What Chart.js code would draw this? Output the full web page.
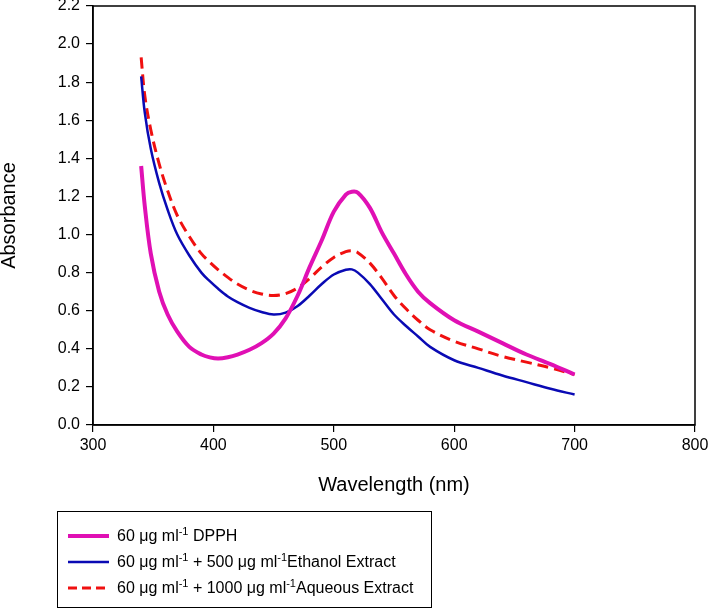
<!DOCTYPE html>
<html>
<head>
<meta charset="utf-8">
<script src="https://cdn.jsdelivr.net/npm/chart.js@4/dist/chart.umd.min.js"></script>
<style>
  html, body { margin: 0; padding: 0; background: #fff; }
  #wrap { position: relative; width: 709px; height: 612px; }
  #c { position: absolute; left: 0; top: 0; }
  #legend {
    position: absolute; left: 57px; top: 511px; width: 375px; height: 97px;
    border: 1.5px solid #000; box-sizing: border-box;
    font-family: "Liberation Sans", Arial, sans-serif; font-size: 16px; color: #000;
  }
  .row { position: absolute; left: 0; height: 20px; line-height: 20px; white-space: nowrap; }
  .row .sample { position: absolute; left: 10px; width: 41px; }
  .row .txt { position: absolute; left: 59px; top: 0; }
  sup { font-size: 11px; line-height: 0; vertical-align: 6px; }
</style>
</head>
<body>
<div id="wrap">
  <canvas id="c" width="709" height="612"></canvas>
  <div id="legend"></div>
</div>
<script>
// ---- data ----
const wavelengths = [340, 343, 348, 355, 362, 370, 380, 390, 397, 404, 412, 420, 430, 440, 450, 460, 470, 480, 490, 500, 510, 515, 520, 530, 540, 550, 560, 570, 580, 600, 620, 640, 660, 680, 700];
const dpph =    [1.36, 1.15, 0.90, 0.70, 0.58, 0.49, 0.41, 0.37, 0.355, 0.349, 0.356, 0.37, 0.395, 0.43, 0.48, 0.56, 0.68, 0.83, 0.97, 1.12, 1.21, 1.225, 1.22, 1.14, 1.01, 0.90, 0.79, 0.70, 0.64, 0.55, 0.49, 0.43, 0.37, 0.32, 0.265];
const ethanol = [1.83, 1.64, 1.45, 1.27, 1.13, 1.00, 0.89, 0.80, 0.755, 0.715, 0.675, 0.645, 0.615, 0.593, 0.58, 0.59, 0.625, 0.68, 0.74, 0.79, 0.815, 0.817, 0.80, 0.74, 0.66, 0.58, 0.52, 0.465, 0.41, 0.34, 0.30, 0.26, 0.225, 0.19, 0.16];
const aqueous = [1.93, 1.73, 1.55, 1.37, 1.23, 1.10, 0.99, 0.90, 0.855, 0.815, 0.775, 0.74, 0.708, 0.688, 0.68, 0.69, 0.72, 0.77, 0.83, 0.88, 0.91, 0.915, 0.905, 0.85, 0.77, 0.68, 0.61, 0.55, 0.50, 0.44, 0.40, 0.36, 0.33, 0.30, 0.265];
const seriesLabels = ["60 μg ml<sup>-1</sup> DPPH", "60 μg ml<sup>-1</sup> + 500 μg ml<sup>-1</sup>Ethanol Extract", "60 μg ml<sup>-1</sup> + 1000 μg ml<sup>-1</sup>Aqueous Extract"];
const xTitle = "Wavelength (nm)";
const yTitle = "Absorbance";

const toPts = vals => wavelengths.map((w, i) => ({x: w, y: vals[i]}));
const styles = [
  {color: "#E010B4", width: 4, dash: []},
  {color: "#0A0AB4", width: 2.5, dash: []},
  {color: "#F01010", width: 3, dash: [11, 6]}
];
const seriesData = [dpph, ethanol, aqueous];

const FONT = "'Liberation Sans', Arial, sans-serif";

const boxPlugin = {
  id: 'box',
  afterDatasetsDraw(chart) {
    const {ctx, chartArea: a} = chart;
    ctx.save();
    ctx.strokeStyle = '#000';
    ctx.lineWidth = 1.5;
    ctx.strokeRect(a.left, a.top, a.right - a.left, a.bottom - a.top);
    ctx.restore();
  }
};

new Chart(document.getElementById('c'), {
  type: 'scatter',
  data: {
    datasets: seriesData.map((vals, i) => ({
      data: toPts(vals),
      showLine: true,
      borderColor: styles[i].color,
      borderWidth: styles[i].width,
      borderDash: styles[i].dash,
      pointRadius: 0,
      tension: 0.35,
      fill: false
    }))
  },
  options: {
    responsive: false,
    animation: false,
    devicePixelRatio: 1,
    layout: { padding: { left: 0, top: 6, right: 14, bottom: 112 } },
    plugins: { legend: { display: false }, tooltip: { enabled: false } },
    scales: {
      x: {
        type: 'linear', min: 300, max: 800,
        afterFit(s) { s.height = 75; s.paddingLeft = 0; s.paddingRight = 0; },
        ticks: { stepSize: 100, color: '#000', padding: 4, font: { family: FONT, size: 16 }, maxRotation: 0 },
        grid: { drawOnChartArea: false, drawTicks: true, tickLength: 7, color: '#000', lineWidth: 1.2 },
        border: { display: true, color: '#000', width: 1.5 },
        title: { display: true, text: xTitle, color: '#000', font: { family: FONT, size: 20, lineHeight: 1 }, padding: { top: 0, bottom: 5 } }
      },
      y: {
        type: 'linear', min: 0, max: 2.2,
        afterFit(s) { s.width = 93; s.paddingTop = 0; s.paddingBottom = 0; },
        ticks: { stepSize: 0.2, color: '#000', padding: 6, font: { family: FONT, size: 16 },
                 callback: v => v.toFixed(1) },
        grid: { drawOnChartArea: false, drawTicks: true, tickLength: 7, color: '#000', lineWidth: 1.2 },
        border: { display: true, color: '#000', width: 1.5 },
        title: { display: true, text: yTitle, color: '#000', font: { family: FONT, size: 20, lineHeight: 1 }, padding: { top: -1, bottom: 0 } }
      }
    }
  },
  plugins: [boxPlugin]
});

// ---- HTML legend ----
const leg = document.getElementById('legend');
const rowCenters = [24, 50, 76];
seriesLabels.forEach((lab, i) => {
  const row = document.createElement('div');
  row.className = 'row';
  row.style.top = (rowCenters[i] - 10) + 'px';
  const st = styles[i];
  row.innerHTML = `<svg class="sample" width="41" height="20" style="top:0"><line x1="0" y1="10" x2="41" y2="10" stroke="${st.color}" stroke-width="${st.width}" ${st.dash.length ? 'stroke-dasharray="9,5"' : ''}/></svg><span class="txt">${lab}</span>`;
  leg.appendChild(row);
});
</script>
</body>
</html>
